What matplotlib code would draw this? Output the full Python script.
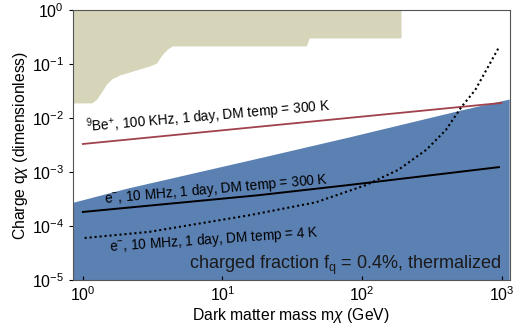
import numpy as np
import matplotlib.pyplot as plt

plt.rcParams['font.family'] = ['Liberation Sans', 'DejaVu Sans']
plt.rcParams['mathtext.fontset'] = 'custom'
plt.rcParams['mathtext.rm'] = 'Liberation Sans'
plt.rcParams['mathtext.it'] = 'Liberation Sans:italic'

# excluded region (beige), lower edge
excl_m = [0.85, 1.16, 1.26, 1.39, 1.48, 1.61, 1.84, 2.17, 2.68, 3.01, 3.38,
          3.55, 3.79, 4.05, 4.39, 39.8, 41.8, 190.0]
excl_q = [0.019, 0.019, 0.0225, 0.033, 0.0426, 0.0528, 0.0626, 0.0711, 0.0843,
          0.0918, 0.104, 0.129, 0.16, 0.19, 0.216, 0.216, 0.303, 0.303]

# charged fraction region (blue), upper edge
blue_m = [0.85, 2.06, 18.2, 81.0, 513.0, 1130.0]
blue_q = [2.75e-4, 5.0e-4, 1.82e-3, 4.47e-3, 1.41e-2, 2.24e-2]

# 9Be+ line
be_m = [1.0, 1000.0]
be_q = [3.3e-3, 1.9e-2]

# e- 300 K line
e300_m = [1.0, 18.2, 81.0, 955.0]
e300_q = [1.82e-4, 3.72e-4, 5.75e-4, 1.23e-3]

# e- 4 K line (dotted)
e4_m = [1.03, 3.0, 15.5, 46.8, 107.0, 182.0, 288.0, 398.0, 513.0, 646.0, 955.0]
e4_q = [6.0e-5, 7.8e-5, 1.58e-4, 2.75e-4, 5.75e-4, 1.10e-3, 2.57e-3, 6.0e-3, 1.58e-2, 3.3e-2, 0.204]

fig = plt.figure(figsize=(5.15, 3.31), dpi=100)
ax = fig.add_axes([0.1417, 0.154, 0.848, 0.816])

ax.fill_between(excl_m, excl_q, 1.0, color='#d6d4b9', lw=0)
ax.fill_between(blue_m, 1e-6, blue_q, color='#5b80b2', lw=0)
ax.plot(be_m, be_q, color='#a0414c', lw=1.3)
ax.plot(e300_m, e300_q, color='black', lw=1.4)
ax.plot(e4_m, e4_q, color='black', lw=1.5, ls=(0, (1.0, 1.4)))

ax.set_xscale('log')
ax.set_yscale('log')
ax.set_xlim(0.85, 1140)
ax.set_ylim(1e-5, 1)
ax.set_xticks([1, 10, 100, 1000])
ax.set_yticks([1e-5, 1e-4, 1e-3, 1e-2, 1e-1, 1])
ax.minorticks_off()
ax.tick_params(axis='x', direction='in', length=3, labelsize=11.5, pad=4)
ax.tick_params(axis='y', direction='out', length=3, labelsize=11.5)
for s in ax.spines.values():
    s.set_color('#555555')

ax.set_xlabel('Dark matter mass m$\\chi$ (GeV)', fontsize=11.3, labelpad=1)
ax.set_ylabel('Charge q$\\chi$ (dimensionless)', fontsize=11.3, labelpad=1)

ax.text(1.06, 5.6e-3, '$^{9}$Be$^{+}$, 100 KHz, 1 day, DM temp = 300 K',
        fontsize=9.8, rotation=5, rotation_mode='anchor')
ax.text(1.42, 2.65e-4, 'e$^{-}$, 10 MHz, 1 day, DM temp = 300 K',
        fontsize=9.8, rotation=5, rotation_mode='anchor')
ax.text(1.55, 3.5e-5, 'e$^{-}$, 10 MHz, 1 day, DM temp = 4 K',
        fontsize=9.8, rotation=4, rotation_mode='anchor')
ax.text(5.8, 1.6e-5, 'charged fraction f$_{\\mathrm{q}}$ = 0.4%, thermalized',
        fontsize=13, color='#1a1a1a')

fig.savefig('out.png', dpi=100)
